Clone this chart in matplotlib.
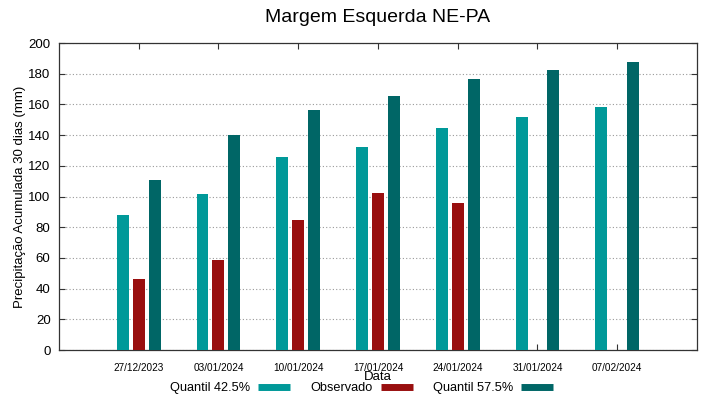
import matplotlib
matplotlib.use("Agg")
import matplotlib.pyplot as plt
from matplotlib.lines import Line2D
import numpy as np

plt.rcParams.update({
    "font.family": ["Liberation Sans", "DejaVu Sans"],
    "font.size": 9,
})

datas = ["27/12/2023", "03/01/2024", "10/01/2024", "17/01/2024",
         "24/01/2024", "31/01/2024", "07/02/2024"]
q425 = [88.0, 101.5, 125.5, 132.5, 144.5, 151.8, 158.6]
obs = [46.0, 58.5, 85.0, 102.0, 96.0, np.nan, np.nan]
q575 = [110.9, 139.9, 156.6, 165.3, 176.8, 182.6, 187.8]

C_Q1 = "#009999"
C_OBS = "#990f0f"
C_Q2 = "#006666"

fig = plt.figure(figsize=(7.19, 3.99), dpi=100)
ax = fig.add_axes([0.082, 0.1228, 0.8874, 0.7694])

x = np.arange(len(datas))
w = 0.15
ax.bar(x - 0.2, q425, w, color=C_Q1, zorder=3)
ax.bar(x, obs, w, color=C_OBS, zorder=3)
ax.bar(x + 0.2, q575, w, color=C_Q2, zorder=3)

ax.set_xlim(-1, 7)
ax.set_ylim(0, 200)
ax.set_yticks(np.arange(0, 201, 20))
ax.set_xticks(x)
ax.set_xticklabels(datas, fontsize=7.2)
ax.tick_params(axis="both", direction="in", top=True, right=True,
               length=4, width=0.8, color="#333333")
ax.tick_params(axis="y", labelsize=9.5, pad=6)
ax.tick_params(axis="x", pad=9)
ax.yaxis.grid(True, linestyle=(0, (1, 2)), color="#999999", lw=0.8, zorder=0)
for s in ax.spines.values():
    s.set_color("#333333")
    s.set_linewidth(0.9)

ax.set_title("Margem Esquerda NE-PA", fontsize=14, pad=15)
ax.set_ylabel("Precipitação Acumulada 30 dias (mm)", fontsize=9.5, labelpad=2)
ax.set_xlabel("Data", fontsize=9.5, labelpad=-1)

handles = [Line2D([], [], color=c, lw=5, solid_capstyle="butt")
           for c in (C_Q1, C_OBS, C_Q2)]
fig.legend(handles, ["Quantil 42.5%", "Observado", "Quantil 57.5%"],
           loc="center", bbox_to_anchor=(0.503, 1 - 388 / 399), ncol=3,
           frameon=False, markerfirst=False, fontsize=9.2,
           handlelength=2.5, handletextpad=0.6, columnspacing=1.6,
           borderpad=0, borderaxespad=0)

fig.savefig("out.png", dpi=100)
